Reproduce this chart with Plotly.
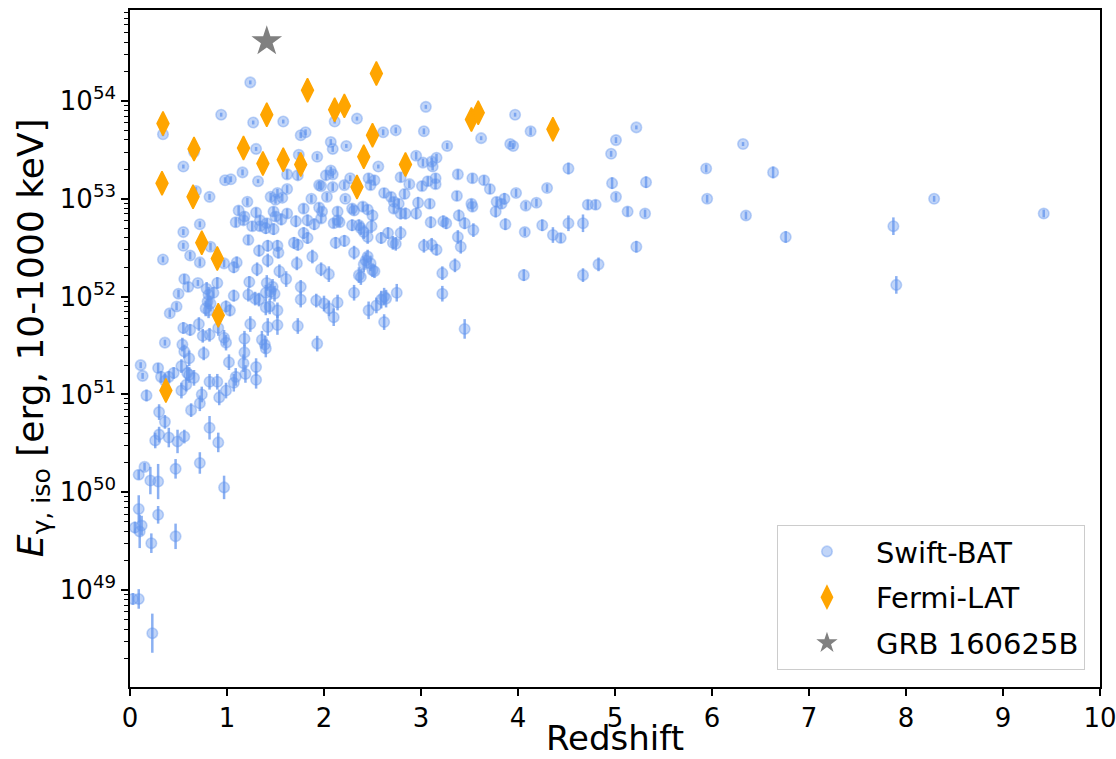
import plotly.graph_objects as go

# Swift-BAT bursts: redshift, log10(E_gamma,iso / erg) and 1-sigma error (dex)
swift_z = [
    1.24, 0.94, 1.27, 1.58, 0.34, 1.30, 1.76, 1.81, 1.74, 1.93, 0.66, 0.55, 1.16, 0.98, 1.04, 1.32,
    1.62, 1.73, 1.95, 1.62, 0.68, 0.82, 1.45, 1.52, 1.57, 1.50, 1.87, 1.21, 1.12, 1.18, 1.09, 1.17,
    1.30, 1.34, 1.41, 1.40, 1.48, 1.50, 1.62, 1.56, 1.79, 1.83, 1.71, 1.90, 1.26, 1.34, 1.48, 0.72,
    0.55, 0.55, 1.22, 1.69, 1.73, 1.42, 1.52, 0.83, 0.34, 0.62, 0.72, 1.33, 1.42, 1.53, 1.10, 1.07,
    0.97, 1.31, 1.72, 1.88, 1.97, 1.54, 1.61, 1.23, 1.41, 1.47, 1.45, 1.49, 1.40, 1.76, 1.76, 1.92,
    0.56, 0.60, 0.70, 0.50, 0.48, 0.41, 0.79, 0.81, 0.80, 0.83, 0.78, 0.81, 0.90, 0.86, 1.07, 1.22,
    1.29, 1.33, 0.99, 1.03, 1.40, 1.44, 1.52, 0.91, 0.55, 0.62, 0.71, 0.75, 0.82, 0.97, 0.99, 1.24,
    1.18, 1.36, 1.39, 1.40, 1.52, 1.42, 1.73, 1.93, 0.36, 0.54, 0.56, 0.61, 0.76, 1.18, 1.02, 0.53,
    0.59, 0.61, 0.66, 0.11, 0.13, 0.29, 0.32, 0.36, 0.40, 0.45, 1.17, 1.30, 1.19, 1.09, 1.07, 1.30,
    0.82, 0.90, 0.58, 0.53, 0.99, 0.74, 0.72, 0.63, 0.92, 0.17, 0.30, 0.36, 0.26, 0.30, 0.40, 0.49,
    0.56, 0.82, 0.91, 0.72, 0.47, 0.15, 0.09, 0.21, 0.29, 0.97, 0.09, 0.29, 0.05, 0.12, 0.10, 0.22,
    0.47, 0.03, 0.09, 0.23,
    3.05, 2.11, 2.34, 2.74, 2.61, 3.03, 3.62, 2.07, 2.09, 2.23, 3.27, 2.56, 2.95, 3.02, 3.11, 3.16,
    3.12, 2.79, 2.88, 3.01, 3.07, 3.15, 3.15, 3.38, 3.53, 3.65, 3.71, 2.27, 2.02, 2.07, 2.09, 1.97,
    2.09, 2.21, 2.46, 2.48, 2.52, 2.03, 2.22, 2.62, 2.69, 2.72, 2.77, 2.83, 2.97, 3.09, 3.37, 3.52,
    3.53, 3.77, 1.95, 1.98, 1.97, 2.14, 2.14, 2.10, 2.16, 2.29, 2.31, 2.40, 2.45, 2.50, 2.72, 2.79,
    2.84, 2.95, 3.10, 3.23, 3.26, 3.39, 3.45, 3.54, 1.79, 1.83, 2.29, 2.36, 2.38, 2.41, 2.45, 2.49,
    2.12, 2.21, 2.59, 2.66, 2.71, 2.79, 3.11, 3.03, 3.38, 3.41, 2.31, 2.45, 2.43, 2.48, 2.41, 2.50,
    2.52, 2.36, 2.38, 2.74, 3.16, 3.35, 3.22, 2.05, 2.31, 2.00, 2.05, 2.10, 2.14, 2.46, 2.54, 2.59,
    2.62, 2.64, 2.62, 2.75, 3.22, 3.45,
    3.97, 4.13, 3.92, 3.95, 5.22, 5.01, 4.96, 4.52, 3.98, 4.30, 4.97, 5.01, 5.32, 3.78, 3.86, 3.83,
    4.08, 4.19, 4.72, 4.80, 5.13, 5.31, 3.87, 4.07, 4.25, 4.36, 4.44, 4.52, 4.67, 5.22, 4.06, 4.67,
    4.83, 6.32, 5.94, 6.63, 5.95, 6.35, 6.76, 7.87, 8.29, 9.42, 7.90,
]
swift_log_eiso = [
    54.19, 53.86, 53.78, 53.79, 53.66, 53.51, 53.65, 53.68, 53.45, 53.43, 53.48, 53.33, 53.27, 53.19, 53.20, 53.18,
    53.25, 53.24, 53.14, 53.10, 53.08, 53.02, 53.02, 53.06, 53.01, 52.99, 53.00, 52.97, 52.88, 52.82, 52.76, 52.78,
    52.86, 52.78, 52.75, 52.70, 52.87, 52.82, 52.85, 52.79, 52.90, 52.78, 52.77, 52.74, 52.72, 52.72, 52.69, 52.74,
    52.66, 52.52, 52.58, 52.55, 52.53, 52.52, 52.52, 52.51, 52.38, 52.42, 52.35, 52.47, 52.37, 52.45, 52.35, 52.30,
    52.34, 52.28, 52.34, 52.41, 52.28, 52.26, 52.18, 52.15, 52.14, 52.10, 52.05, 52.03, 52.04, 52.10, 51.97, 51.96,
    52.18, 52.10, 52.14, 52.03, 51.90, 51.83, 52.08, 52.02, 51.95, 51.93, 51.88, 51.86, 52.14, 52.04, 52.01, 52.02,
    51.98, 51.97, 51.90, 51.86, 51.89, 51.90, 51.86, 51.68, 51.68, 51.66, 51.72, 51.60, 51.61, 51.58, 51.53, 51.72,
    51.57, 51.56, 51.51, 51.47, 51.71, 51.69, 51.70, 51.52, 51.53, 51.51, 51.44, 51.37, 51.42, 51.43, 51.33, 51.29,
    51.22, 51.20, 51.17, 51.30, 51.19, 51.27, 51.18, 51.14, 51.18, 51.22, 51.32, 51.28, 51.21, 51.18, 51.12, 51.15,
    51.13, 51.13, 51.10, 51.04, 51.04, 51.00, 50.91, 50.84, 50.97, 50.99, 50.82, 50.72, 50.53, 50.59, 50.56, 50.52,
    50.57, 50.66, 50.51, 50.30, 50.24, 50.26, 50.18, 50.12, 50.11, 50.05, 49.83, 49.77, 49.64, 49.66, 49.60, 49.48,
    49.55, 48.91, 48.91, 48.56,
    53.94, 53.79, 53.82, 53.70, 53.68, 53.69, 53.62, 53.58, 53.51, 53.54, 53.54, 53.33, 53.44, 53.37, 53.38, 53.42,
    53.33, 53.22, 53.15, 53.13, 53.18, 53.21, 53.15, 53.25, 53.21, 53.19, 53.10, 53.21, 53.24, 53.29, 53.25, 53.13,
    53.12, 53.14, 53.21, 53.14, 53.19, 53.02, 53.00, 53.06, 53.02, 52.97, 52.95, 53.05, 52.96, 52.95, 53.03, 52.95,
    52.92, 52.87, 52.91, 52.87, 52.80, 52.87, 52.78, 52.75, 52.76, 52.90, 52.88, 52.92, 52.89, 52.83, 52.90, 52.85,
    52.85, 52.85, 52.76, 52.77, 52.75, 52.83, 52.75, 52.68, 52.65, 52.60, 52.73, 52.73, 52.70, 52.66, 52.61, 52.72,
    52.55, 52.57, 52.60, 52.65, 52.55, 52.65, 52.53, 52.52, 52.61, 52.51, 52.45, 52.41, 52.37, 52.34, 52.33, 52.27,
    52.26, 52.22, 52.20, 52.54, 52.48, 52.32, 52.24, 52.23, 52.04, 51.93, 51.88, 51.79, 51.94, 51.86, 51.91, 51.97,
    52.00, 51.98, 51.74, 52.04, 52.03, 51.67,
    53.86, 53.69, 53.56, 53.54, 53.73, 53.60, 53.46, 53.31, 53.06, 53.11, 53.16, 53.02, 53.17, 52.97, 53.00, 52.95,
    52.93, 52.96, 52.94, 52.94, 52.87, 52.85, 52.74, 52.66, 52.73, 52.63, 52.60, 52.75, 52.75, 52.51, 52.22, 52.22,
    52.33, 53.56, 53.31, 53.27, 53.00, 52.83, 52.61, 52.72, 53.00, 52.85, 52.12,
]
swift_err_dex = [
    0.02, 0.02, 0.02, 0.02, 0.02, 0.02, 0.03, 0.03, 0.03, 0.03, 0.02, 0.02, 0.03, 0.03, 0.03, 0.02,
    0.05, 0.05, 0.04, 0.04, 0.04, 0.03, 0.04, 0.04, 0.04, 0.04, 0.04, 0.04, 0.05, 0.05, 0.05, 0.05,
    0.05, 0.05, 0.05, 0.06, 0.05, 0.05, 0.05, 0.06, 0.05, 0.06, 0.06, 0.06, 0.05, 0.05, 0.06, 0.03,
    0.03, 0.03, 0.05, 0.06, 0.06, 0.06, 0.06, 0.04, 0.03, 0.04, 0.04, 0.06, 0.07, 0.06, 0.06, 0.06,
    0.04, 0.07, 0.07, 0.07, 0.07, 0.07, 0.08, 0.06, 0.08, 0.08, 0.08, 0.08, 0.08, 0.07, 0.08, 0.07,
    0.05, 0.05, 0.03, 0.04, 0.04, 0.04, 0.07, 0.08, 0.08, 0.08, 0.08, 0.08, 0.06, 0.06, 0.06, 0.07,
    0.07, 0.07, 0.06, 0.06, 0.08, 0.08, 0.08, 0.08, 0.06, 0.06, 0.07, 0.07, 0.07, 0.08, 0.08, 0.08,
    0.08, 0.09, 0.09, 0.09, 0.10, 0.09, 0.08, 0.08, 0.03, 0.07, 0.07, 0.08, 0.07, 0.08, 0.08, 0.07,
    0.08, 0.08, 0.08, 0.03, 0.03, 0.05, 0.06, 0.07, 0.06, 0.06, 0.09, 0.09, 0.09, 0.09, 0.09, 0.09,
    0.08, 0.08, 0.07, 0.08, 0.08, 0.08, 0.08, 0.07, 0.08, 0.06, 0.08, 0.07, 0.08, 0.08, 0.10, 0.12,
    0.07, 0.12, 0.10, 0.11, 0.10, 0.04, 0.05, 0.14, 0.18, 0.12, 0.14, 0.09, 0.06, 0.10, 0.17, 0.10,
    0.13, 0.06, 0.10, 0.20,
    0.02, 0.02, 0.02, 0.03, 0.03, 0.03, 0.02, 0.03, 0.03, 0.02, 0.03, 0.02, 0.04, 0.04, 0.04, 0.04,
    0.04, 0.05, 0.04, 0.05, 0.05, 0.05, 0.05, 0.05, 0.05, 0.05, 0.05, 0.03, 0.05, 0.04, 0.04, 0.04,
    0.04, 0.04, 0.05, 0.05, 0.05, 0.04, 0.03, 0.05, 0.05, 0.05, 0.05, 0.05, 0.06, 0.05, 0.05, 0.05,
    0.05, 0.06, 0.05, 0.05, 0.05, 0.05, 0.05, 0.05, 0.05, 0.05, 0.05, 0.05, 0.05, 0.06, 0.05, 0.06,
    0.06, 0.06, 0.06, 0.06, 0.06, 0.06, 0.06, 0.07, 0.06, 0.06, 0.06, 0.06, 0.07, 0.07, 0.07, 0.07,
    0.06, 0.06, 0.06, 0.06, 0.07, 0.07, 0.07, 0.07, 0.07, 0.07, 0.07, 0.07, 0.08, 0.08, 0.08, 0.07,
    0.07, 0.08, 0.08, 0.07, 0.06, 0.07, 0.07, 0.08, 0.08, 0.08, 0.08, 0.09, 0.08, 0.09, 0.08, 0.09,
    0.09, 0.09, 0.08, 0.09, 0.08, 0.10,
    0.02, 0.04, 0.03, 0.03, 0.02, 0.03, 0.03, 0.06, 0.04, 0.04, 0.06, 0.04, 0.06, 0.05, 0.06, 0.05,
    0.04, 0.04, 0.05, 0.05, 0.05, 0.04, 0.06, 0.04, 0.06, 0.08, 0.05, 0.08, 0.09, 0.06, 0.06, 0.07,
    0.07, 0.02, 0.04, 0.06, 0.04, 0.04, 0.06, 0.09, 0.03, 0.04, 0.09,
]

# Fermi-LAT detected bursts
fermi_z = [0.34, 0.33, 0.66, 0.65, 0.74, 0.90, 0.91, 0.37, 1.17, 1.41, 1.37, 1.58,
           1.76, 1.83, 2.11, 2.21, 2.54, 2.50, 2.41, 2.34, 2.84, 3.52, 3.59, 4.36]
fermi_log_eiso = [53.77, 53.16, 53.51, 53.02, 52.55, 52.39, 51.81, 51.04, 53.52, 53.86, 53.36, 53.40,
                  53.35, 54.11, 53.91, 53.95, 54.28, 53.65, 53.43, 53.12, 53.35, 53.81, 53.88, 53.71]

# GRB 160625B
grb_z = [1.41]
grb_log_eiso = [54.61]

# y-axis decades
decades = [49, 50, 51, 52, 53, 54]

swift_e = [10 ** v for v in swift_log_eiso]
err_up = [e * (10 ** d - 1) for e, d in zip(swift_e, swift_err_dex)]
err_down = [e * (1 - 10 ** -d) for e, d in zip(swift_e, swift_err_dex)]

BLUE_FILL = "rgba(100,149,237,0.40)"
BLUE_BAR = "rgba(100,149,237,0.75)"
FONT = "DejaVu Sans"

fig = go.Figure()

fig.add_trace(go.Scatter(
    x=swift_z, y=swift_e, mode="markers", name="Swift-BAT",
    marker=dict(symbol="circle", size=10.5, color=BLUE_FILL,
                line=dict(color=BLUE_FILL, width=1.6)),
    error_y=dict(type="data", symmetric=False, array=err_up, arrayminus=err_down,
                 color=BLUE_BAR, thickness=2.5, width=0),
    legendgroup="a",
))

fig.add_trace(go.Scatter(
    x=fermi_z, y=[10 ** v for v in fermi_log_eiso], mode="markers", name="Fermi-LAT",
    marker=dict(symbol="diamond-tall", size=17, color="orange",
                line=dict(color="orange", width=1.5)),
    legendgroup="b",
))

fig.add_trace(go.Scatter(
    x=grb_z, y=[10 ** v for v in grb_log_eiso], mode="markers", name="GRB 160625B",
    marker=dict(symbol="star", size=23, color="grey", line=dict(width=0)),
    legendgroup="c",
))

minor_vals = [k * 10.0 ** n for n in range(48, 55) for k in range(2, 10)]

# axis titles, placed below / left of the frame
fig.add_annotation(
    text="Redshift", xref="paper", yref="paper", x=0.5, y=-0.1063,
    xanchor="center", yanchor="bottom", showarrow=False, borderpad=0,
    font=dict(size=34, family=FONT, color="black"),
)
fig.add_annotation(
    text="<i>E</i><sub>γ, iso</sub> [erg, 10-1000 keV]", xref="paper", yref="paper",
    x=-0.1, y=0.515, xanchor="center", yanchor="middle", textangle=-90, showarrow=False,
    font=dict(size=36, family=FONT, color="black"),
)

fig.update_layout(
    width=1116, height=759, autosize=False,
    margin=dict(l=130, r=16, t=10, b=72),
    plot_bgcolor="white", paper_bgcolor="white",
    font=dict(family=FONT, color="black", size=26),
    showlegend=True,
    legend=dict(
        x=0.9845, y=0.025, xanchor="right", yanchor="bottom",
        bgcolor="rgba(255,255,255,0.85)", bordercolor="#cccccc", borderwidth=1,
        font=dict(family=FONT, size=29, color="black"),
        tracegroupgap=5, itemwidth=88,
    ),
    xaxis=dict(
        range=[0, 10], tickvals=list(range(0, 11)), automargin=False,
        ticklabeloverflow="allow",
        showline=True, linecolor="black", linewidth=1.5, mirror=True,
        ticks="outside", ticklen=7, tickwidth=1.5, tickcolor="black",
        showgrid=False, zeroline=False,
        tickfont=dict(size=26, family=FONT),
    ),
    yaxis=dict(
        type="log", range=[48.01, 54.93], automargin=False,
        tickvals=[10.0 ** d for d in decades],
        ticktext=["10<sup>%d</sup>" % d for d in decades],
        showline=True, linecolor="black", linewidth=1.5, mirror=True,
        ticks="outside", ticklen=7, tickwidth=1.5, tickcolor="black",
        minor=dict(tickvals=minor_vals, ticks="outside", ticklen=4, tickwidth=1, tickcolor="black"),
        showgrid=False, zeroline=False,
        tickfont=dict(size=26, family=FONT),
    ),
)

fig.write_html("out.html")
